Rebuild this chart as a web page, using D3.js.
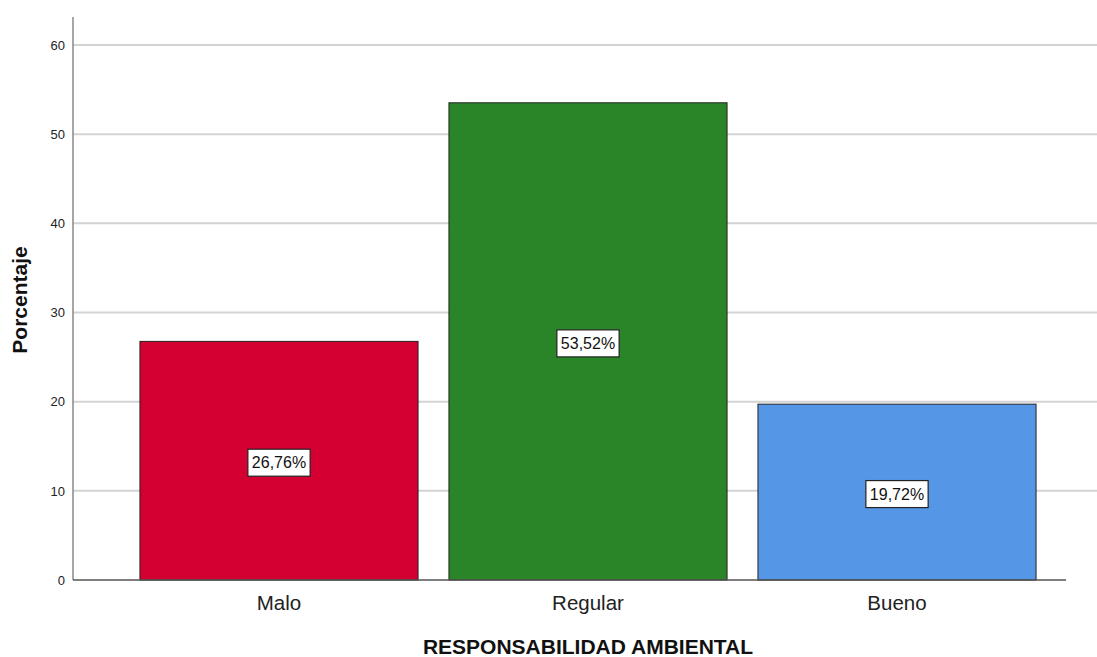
<!DOCTYPE html>
<html><head><meta charset="utf-8">
<script src="https://cdn.jsdelivr.net/npm/d3@7"></script>
<style>body{margin:0;background:#fff}svg{display:block}text{font-family:Arial,"Liberation Sans",sans-serif}</style>
</head><body><svg id="c" width="1097" height="657"></svg>
<script>
const categories = ["Malo","Regular","Bueno"];
const values = [26.76, 53.52, 19.72];
const labels = ["26,76%","53,52%","19,72%"];
const colors = ["#d50032","#2a8529","#5596e6"];
const yTicks = [0,10,20,30,40,50,60];

const svg = d3.select("#c");
const x0 = 73, x1 = 1097, yTop = 17, yBot = 580;
const y = d3.scaleLinear().domain([0,60]).range([yBot, 45]);
const x = d3.scaleBand().domain(categories).range([124.5, 1051.5]).paddingInner(0.1).paddingOuter(0.05);

// gridlines
svg.append("g").selectAll("line").data(yTicks.filter(d=>d>0)).join("line")
  .attr("x1", x0).attr("x2", x1).attr("y1", d=>y(d)).attr("y2", d=>y(d))
  .attr("stroke", "#d3d3d3").attr("stroke-width", 2);

// y axis
const ya = svg.append("g").attr("transform", `translate(${x0},0)`)
  .call(d3.axisLeft(y).tickValues(yTicks).tickSize(0).tickPadding(8));
ya.select(".domain").remove();
ya.selectAll("text").attr("font-size", 13).attr("fill", "#222");
svg.append("line").attr("x1", x0).attr("x2", x0).attr("y1", yTop).attr("y2", yBot)
  .attr("stroke", "#888").attr("stroke-width", 1.5);

// bars
svg.append("g").selectAll("rect").data(values).join("rect")
  .attr("x", (d,i)=>x(categories[i])).attr("width", x.bandwidth())
  .attr("y", d=>y(d)).attr("height", d=>yBot - y(d))
  .attr("fill", (d,i)=>colors[i]).attr("stroke", "#222").attr("stroke-width", 1);

// x axis baseline
svg.append("line").attr("x1", x0).attr("x2", x(categories[2]) + x.bandwidth() + 30).attr("y1", yBot).attr("y2", yBot)
  .attr("stroke", "#555").attr("stroke-width", 1.5);

// x axis labels
const xa = svg.append("g").attr("transform", `translate(0,${yBot})`)
  .call(d3.axisBottom(x).tickSize(0).tickPadding(15));
xa.select(".domain").remove();
xa.selectAll("text").attr("font-size", 20.5).attr("fill", "#222");

// value labels
const lg = svg.append("g");
values.forEach((v,i)=>{
  const cx = x(categories[i]) + x.bandwidth()/2, cy = y(v/2) + 2;
  const t = lg.append("text").attr("x", cx).attr("y", cy).attr("text-anchor","middle")
    .attr("dominant-baseline","central").attr("font-size", 16).attr("fill","#111").text(labels[i]);
  const bb = t.node().getBBox();
  lg.insert("rect", "text").attr("x", bb.x-4).attr("y", cy-13.5).attr("width", bb.width+8).attr("height", 27)
    .attr("fill","#fff").attr("stroke","#222").attr("stroke-width",1.2);
});

// axis titles
svg.append("text").attr("x", 588).attr("y", 654).attr("text-anchor","middle")
  .attr("font-size", 21).attr("font-weight","bold").attr("fill","#111").text("RESPONSABILIDAD AMBIENTAL");
svg.append("text").attr("transform", "translate(27,300) rotate(-90)").attr("text-anchor","middle")
  .attr("font-size", 21).attr("font-weight","bold").attr("fill","#111").text("Porcentaje");
</script></body></html>
